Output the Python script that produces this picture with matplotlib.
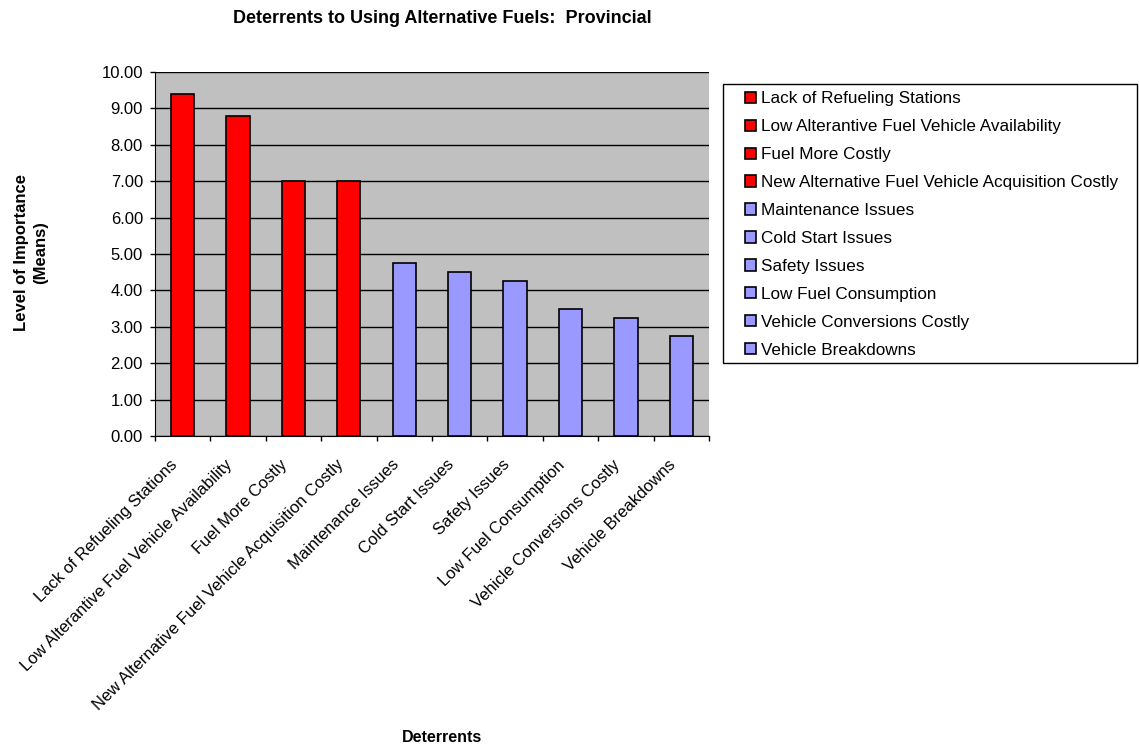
import matplotlib
matplotlib.use("Agg")
import matplotlib.pyplot as plt
import matplotlib.transforms as mtransforms
from matplotlib.patches import Rectangle
import numpy as np

categories = [
    "Lack of Refueling Stations",
    "Low Alterantive Fuel Vehicle Availability",
    "Fuel More Costly",
    "New Alternative Fuel Vehicle Acquisition Costly",
    "Maintenance Issues",
    "Cold Start Issues",
    "Safety Issues",
    "Low Fuel Consumption",
    "Vehicle Conversions Costly",
    "Vehicle Breakdowns",
]
values = [9.4, 8.8, 7.0, 7.0, 4.75, 4.5, 4.25, 3.5, 3.25, 2.75]
colors = ["#FF0000"] * 4 + ["#9999FF"] * 6
yticks = [0, 1, 2, 3, 4, 5, 6, 7, 8, 9, 10]

plt.rcParams['font.family'] = ['Liberation Sans', 'DejaVu Sans']

W, H = 1139, 746
fig = plt.figure(figsize=(W / 100, H / 100), dpi=100)
ax = fig.add_axes([0.136, 0.4155, 0.4865, 0.488])
ax.set_facecolor("#C0C0C0")

x = np.arange(len(categories))
handles = []
for i, (c, v, col) in enumerate(zip(categories, values, colors)):
    b = ax.bar(x[i], v, width=0.42, color=col, edgecolor="black", linewidth=1.2,
               label=c, zorder=3)
    handles.append(b)

ax.set_xlim(-0.5, len(categories) - 0.5)
ax.set_ylim(0, 10)
ax.set_yticks(yticks)
ax.set_yticklabels([f"{t:.2f}" for t in yticks], fontsize=12)
ax.yaxis.grid(True, color="black", linewidth=1.0, zorder=0)
ax.set_axisbelow(True)

ax.set_xticks(x)
ax.set_xticklabels(categories, rotation=45, ha="right", va="center",
                   rotation_mode="anchor", fontsize=12)
ax.tick_params(axis="x", which="major", length=0, pad=14)
offset = mtransforms.ScaledTranslation(-0.08, -0.07, fig.dpi_scale_trans)
for lab in ax.get_xticklabels():
    lab.set_transform(lab.get_transform() + offset)
ax.set_xticks(np.arange(-0.5, len(categories), 1.0), minor=True)
ax.tick_params(axis="x", which="minor", length=3.6, width=1, direction="out", color="black")
ax.tick_params(axis="y", length=3.6, width=1, direction="out", color="black", pad=5)

for s in ["top", "right"]:
    ax.spines[s].set_visible(False)
ax.spines["left"].set_color("black")
ax.spines["bottom"].set_color("black")

fig.text(0.388, 0.975, "Deterrents to Using Alternative Fuels:  Provincial",
         ha="center", va="center", fontsize=13, fontweight="bold")
fig.text(0.0272, 0.661, "Level of Importance\n(Means)", ha="center", va="center",
         rotation=90, fontsize=12, fontweight="bold", linespacing=1.35)
fig.text(0.388, 0.011, "Deterrents", ha="center", va="center",
         fontsize=11.5, fontweight="bold")

# legend frame
fig.patches.append(Rectangle((722.5 / W, 1 - 363 / H), (1137 - 722.5) / W, (363 - 83.5) / H,
                             transform=fig.transFigure, facecolor="white",
                             edgecolor="black", linewidth=1.0, zorder=-1))
leg = fig.legend(handles=handles, labels=categories, loc="upper left",
                 bbox_to_anchor=(745 / W, 1 - 91.5 / H),
                 bbox_transform=fig.transFigure, fontsize=12.3,
                 frameon=False, handlelength=0.65, handleheight=0.65,
                 handletextpad=0.3, labelspacing=0.755, borderaxespad=0, borderpad=0)
leg.set_zorder(5)

fig.savefig("out.png", dpi=100, facecolor="white")
